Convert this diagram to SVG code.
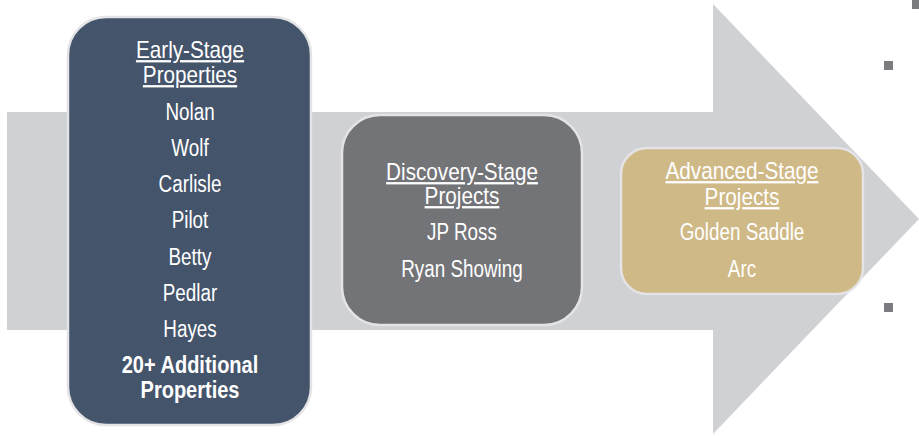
<svg xmlns="http://www.w3.org/2000/svg" width="919" height="436" viewBox="0 0 919 436">
<style>
.t{font-family:"Liberation Sans",Arial,sans-serif;font-size:23px;fill:#ffffff;text-anchor:middle}
.h{text-decoration:underline}
.b{font-weight:bold}
.box{stroke:#e4e4e6;stroke-width:2.5}
.sq{fill:#7b7c80}
</style>
<rect width="919" height="436" fill="#ffffff"/>
<g id="arrow">
<polygon points="7,112 713,112 713,4 919,219 713,434 713,330 7,330" fill="#d0d1d5"/>
</g>
<g id="markers">
<rect class="sq" x="884" y="61" width="9" height="9"/>
<rect class="sq" x="884" y="303" width="9" height="9"/>
<rect class="sq" x="912" y="0" width="7" height="9"/>
</g>
<g id="connectors"></g>
<g id="early-stage">
<rect class="box" x="68" y="17" width="243" height="408" rx="38" fill="#44546a"/>
<text class="t h" transform="translate(190,58) scale(0.9,1)">Early-Stage</text>
<text class="t h" transform="translate(190,83) scale(0.9,1)">Properties</text>
<text class="t" transform="translate(190,120) scale(0.82,1)">Nolan</text>
<text class="t" transform="translate(190,156) scale(0.82,1)">Wolf</text>
<text class="t" transform="translate(190,192) scale(0.82,1)">Carlisle</text>
<text class="t" transform="translate(190,228) scale(0.82,1)">Pilot</text>
<text class="t" transform="translate(190,265) scale(0.82,1)">Betty</text>
<text class="t" transform="translate(190,301) scale(0.82,1)">Pedlar</text>
<text class="t" transform="translate(190,337) scale(0.82,1)">Hayes</text>
<text class="t b" transform="translate(190,373) scale(0.87,1)">20+ Additional</text>
<text class="t b" transform="translate(190,398) scale(0.87,1)">Properties</text>
</g>
<g id="discovery-stage">
<rect class="box" x="342" y="115" width="240" height="210" rx="38" fill="#737478"/>
<text class="t h" transform="translate(462,180) scale(0.9,1)">Discovery-Stage</text>
<text class="t h" transform="translate(462,204) scale(0.9,1)">Projects</text>
<text class="t" transform="translate(462,240) scale(0.82,1)">JP Ross</text>
<text class="t" transform="translate(462,277) scale(0.82,1)">Ryan Showing</text>
</g>
<g id="advanced-stage">
<rect class="box" x="621" y="148" width="242" height="146" rx="26" fill="#cfb987"/>
<text class="t h" transform="translate(742,179) scale(0.9,1)">Advanced-Stage</text>
<text class="t h" transform="translate(742,205) scale(0.9,1)">Projects</text>
<text class="t" transform="translate(742,240) scale(0.82,1)">Golden Saddle</text>
<text class="t" transform="translate(742,277) scale(0.82,1)">Arc</text>
</g>
</svg>
